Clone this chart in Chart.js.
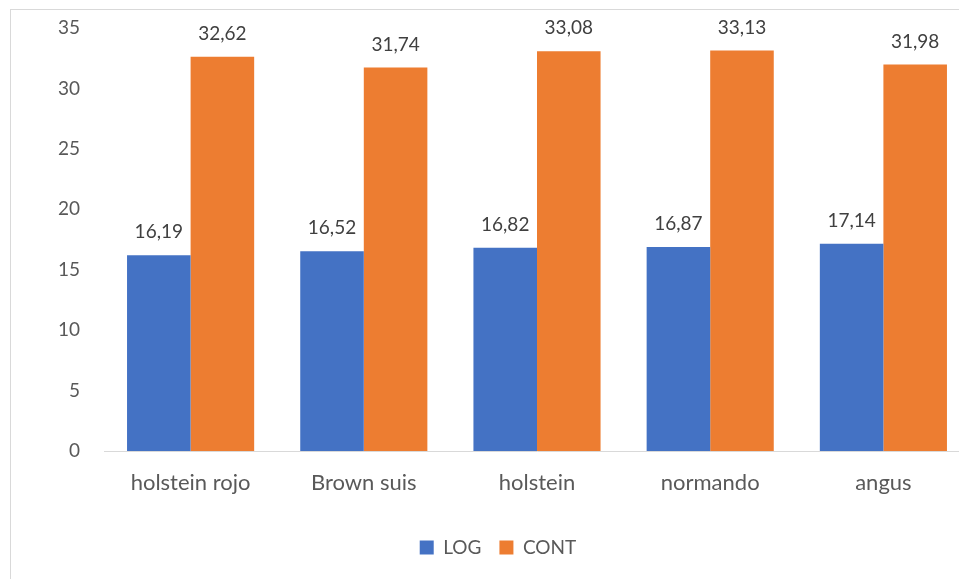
<!DOCTYPE html>
<html>
<head>
<meta charset="utf-8">
<script src="https://cdn.jsdelivr.net/npm/chart.js@4.4.1/dist/chart.umd.min.js"></script>
<style>
  html, body { margin: 0; padding: 0; background: #fff; overflow: hidden; width: 959px; height: 579px; }
  #frame { position: absolute; left: 10px; top: 9px; width: 2000px; height: 2000px; border: 1px solid #d9d9d9; }
  #wrap { position: absolute; left: 0; top: 0; width: 975px; height: 579px; }
</style>
</head>
<body>
<div id="frame"></div>
<div id="wrap"><canvas id="myChart"></canvas></div>
<script>
const categories = ['holstein rojo', 'Brown suis', 'holstein', 'normando', 'angus'];
const logValues = [16.19, 16.52, 16.82, 16.87, 17.14];
const contValues = [32.62, 31.74, 33.08, 33.13, 31.98];
const yTicks = [0, 5, 10, 15, 20, 25, 30, 35];

const FONT = 'Lato, "Liberation Sans", sans-serif';

// value labels above each bar, decimal comma
const barLabels = {
    id: 'barLabels',
    afterDatasetsDraw(chart) {
        const ctx = chart.ctx;
        ctx.save();
        ctx.font = '19px ' + FONT;
        ctx.fillStyle = '#404040';
        ctx.textAlign = 'center';
        ctx.textBaseline = 'middle';
        chart.data.datasets.forEach(function (ds, i) {
            chart.getDatasetMeta(i).data.forEach(function (bar, j) {
                ctx.fillText(ds.data[j].toFixed(2).replace('.', ','), bar.x, bar.y - 23);
            });
        });
        ctx.restore();
    }
};

const ctx = document.getElementById('myChart').getContext('2d');
const myChart = new Chart(ctx, {
    type: 'bar',
    data: {
        labels: categories,
        datasets: [{
            label: 'LOG',
            data: logValues,
            backgroundColor: '#4472C4',
            categoryPercentage: 0.734,
            barPercentage: 1
        },
        {
            label: 'CONT',
            data: contValues,
            backgroundColor: '#ED7D31',
            categoryPercentage: 0.734,
            barPercentage: 1
        }]
    },
    options: {
        responsive: true,
        maintainAspectRatio: false,
        animation: false,
        layout: { padding: { left: 26, right: 5, top: 28, bottom: 12 } },
        plugins: {
            tooltip: { enabled: false },
            legend: {
                position: 'bottom',
                labels: {
                    boxWidth: 14,
                    boxHeight: 14,
                    padding: 18,
                    color: '#595959',
                    font: { family: FONT, size: 19 }
                }
            }
        },
        scales: {
            x: {
                grid: { display: false, drawTicks: false },
                border: { display: true, color: '#d9d9d9', width: 1 },
                ticks: { color: '#595959', padding: 19, font: { family: FONT, size: 22 } },
                afterFit: function (scale) { scale.height = 69; }
            },
            y: {
                min: 0,
                max: 35,
                grid: { display: false, drawTicks: false },
                border: { display: false },
                afterBuildTicks: function (scale) {
                    scale.ticks = yTicks.map(function (v) { return { value: v }; });
                },
                ticks: { color: '#595959', padding: 24, font: { family: FONT, size: 19 } },
                afterFit: function (scale) {
                    scale.width = 78;
                    scale.paddingTop = 0;
                    scale.paddingBottom = 0;
                }
            }
        }
    },
    plugins: [barLabels]
});
</script>
</body>
</html>
